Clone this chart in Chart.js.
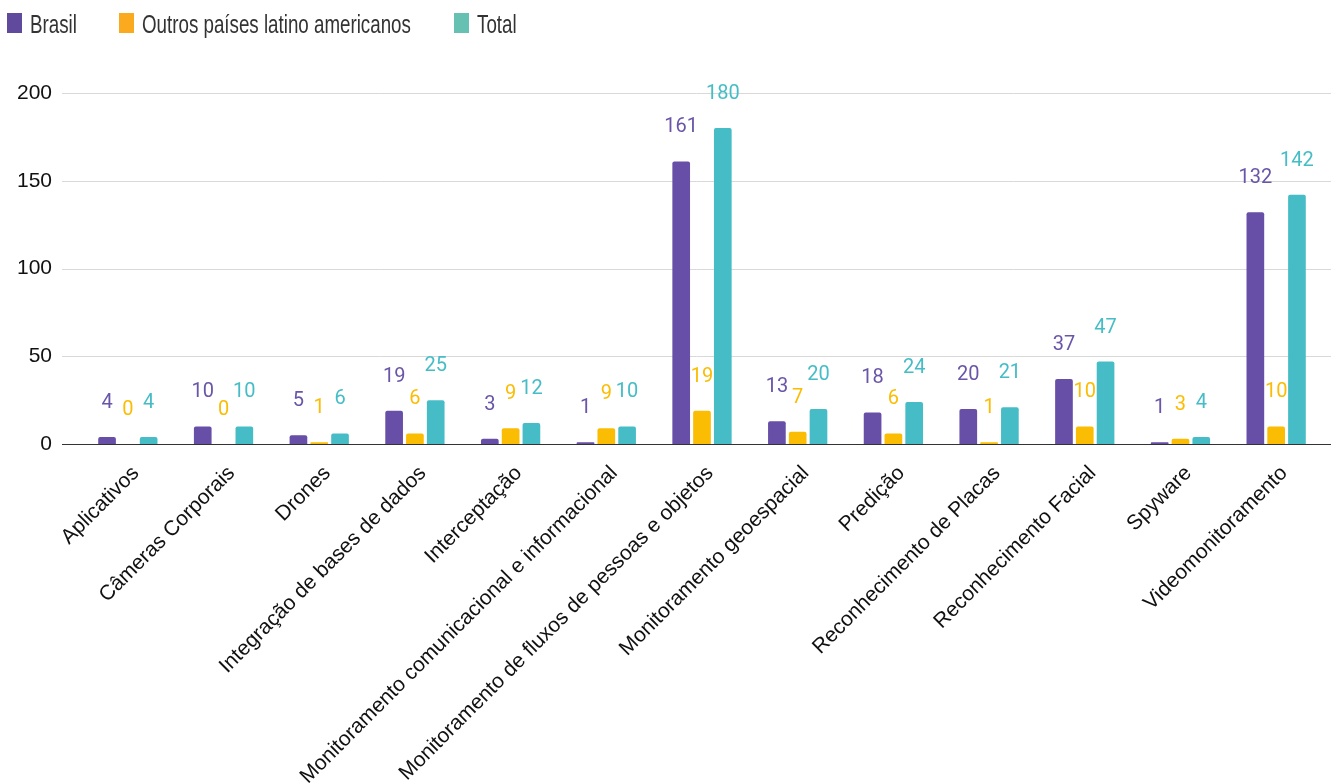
<!DOCTYPE html>
<html>
<head>
<meta charset="utf-8">
<script src="https://cdn.jsdelivr.net/npm/chart.js@4.4.1/dist/chart.umd.min.js"></script>
<style>
  html, body { margin: 0; padding: 0; background: #fff; }
  #wrap { width: 1331px; height: 784px; position: relative; }
</style>
</head>
<body>
<div id="wrap"><canvas id="c"></canvas></div>
<script>
// Categories and counts per technology type
const categories = [
  'Aplicativos',
  'Câmeras Corporais',
  'Drones',
  'Integração de bases de dados',
  'Interceptação',
  'Monitoramento comunicacional e informacional',
  'Monitoramento de fluxos de pessoas e objetos',
  'Monitoramento geoespacial',
  'Predição',
  'Reconhecimento de Placas',
  'Reconhecimento Facial',
  'Spyware',
  'Videomonitoramento'
];
const seriesNames = ['Brasil', 'Outros países latino americanos', 'Total'];
const brasil = [4, 10, 5, 19, 3, 1, 161, 13, 18, 20, 37, 1, 132];
const outros = [0, 0, 1, 6, 9, 9, 19, 7, 6, 1, 10, 3, 10];
const total  = [4, 10, 6, 25, 12, 10, 180, 20, 24, 21, 47, 4, 142];
const yTicks = [0, 50, 100, 150, 200];

const barColors    = ['#674ea7', '#fbbc04', '#46bdc6'];
const labelColors  = ['#6a55a8', '#fbbc04', '#46bdc6'];
const legendColors = ['#5f4a9e', '#fbaa1f', '#67c1b3'];

// Horizontal grid lines spanning the full plot width
const gridLines = {
  id: 'gridLines',
  beforeDatasetsDraw(chart) {
    const ctx = chart.ctx, y = chart.scales.y;
    ctx.save();
    ctx.strokeStyle = '#d9d9d9';
    ctx.lineWidth = 1;
    yTicks.forEach(v => {
      if (v === 0) return;
      const py = Math.round(y.getPixelForValue(v)) + 0.5;
      ctx.beginPath(); ctx.moveTo(62, py); ctx.lineTo(chart.width, py); ctx.stroke();
    });
    ctx.restore();
  },
  afterDatasetsDraw(chart) {
    const ctx = chart.ctx, y = chart.scales.y;
    const py = Math.round(y.getPixelForValue(0)) + 0.5;
    ctx.save();
    ctx.strokeStyle = '#333333';
    ctx.lineWidth = 1.2;
    ctx.beginPath(); ctx.moveTo(62, py); ctx.lineTo(chart.width, py); ctx.stroke();
    ctx.restore();
  }
};

// Value labels above each bar
const valueLabels = {
  id: 'valueLabels',
  afterDatasetsDraw(chart) {
    const ctx = chart.ctx;
    ctx.save();
    ctx.font = '20px Roboto, "Noto Sans", sans-serif';
    ctx.textAlign = 'center';
    ctx.textBaseline = 'middle';
    chart.data.datasets.forEach((ds, i) => {
      const meta = chart.getDatasetMeta(i);
      ctx.fillStyle = labelColors[i];
      meta.data.forEach((bar, j) => {
        ctx.fillText(String(ds.data[j]), bar.x, bar.y - 34);
      });
    });
    ctx.restore();
  }
};

// Legend row at the top left (condensed type)
const topLegend = {
  id: 'topLegend',
  afterDraw(chart) {
    const ctx = chart.ctx;
    const boxes = [7, 119, 454];
    ctx.save();
    ctx.font = '25px "Liberation Sans", Arial, sans-serif';
    ctx.textBaseline = 'alphabetic';
    ctx.textAlign = 'left';
    seriesNames.forEach((name, i) => {
      ctx.fillStyle = legendColors[i];
      ctx.fillRect(boxes[i], 13, 15, 20);
      ctx.fillStyle = '#333333';
      ctx.save();
      ctx.translate(boxes[i] + 23, 33);
      ctx.scale(0.75, 1);
      ctx.fillText(name, 0, 0);
      ctx.restore();
    });
    ctx.restore();
  }
};

new Chart(document.getElementById('c'), {
  type: 'bar',
  data: {
    labels: categories,
    datasets: [brasil, outros, total].map((d, i) => ({
      label: seriesNames[i],
      data: d,
      backgroundColor: barColors[i],
      borderRadius: { topLeft: 2, topRight: 2, bottomLeft: 0, bottomRight: 0 },
      borderSkipped: 'bottom',
      categoryPercentage: 0.652,
      barPercentage: 0.85
    }))
  },
  options: {
    responsive: true,
    maintainAspectRatio: false,
    devicePixelRatio: 1,
    animation: false,
    layout: { padding: { top: 93, right: 7, left: 0, bottom: 0 } },
    plugins: {
      legend: { display: false },
      tooltip: { enabled: false }
    },
    scales: {
      x: {
        grid: { display: false, drawTicks: false },
        border: { display: false },
        ticks: {
          autoSkip: false,
          maxRotation: 45,
          minRotation: 45,
          padding: 17,
          labelOffset: 8,
          color: '#111111',
          font: { family: '"Liberation Sans", Arial, sans-serif', size: 21 }
        },
        afterFit(s) { s.height = 340; }
      },
      y: {
        min: 0,
        max: 200,
        grid: { display: false, drawTicks: false },
        border: { display: false },
        ticks: {
          padding: 28,
          color: '#111111',
          font: { family: '"Liberation Sans", Arial, sans-serif', size: 21 }
        },
        afterBuildTicks(s) { s.ticks = yTicks.map(v => ({ value: v })); },
        afterFit(s) { s.width = 80; }
      }
    }
  },
  plugins: [gridLines, valueLabels, topLegend]
});
</script>
</body>
</html>
